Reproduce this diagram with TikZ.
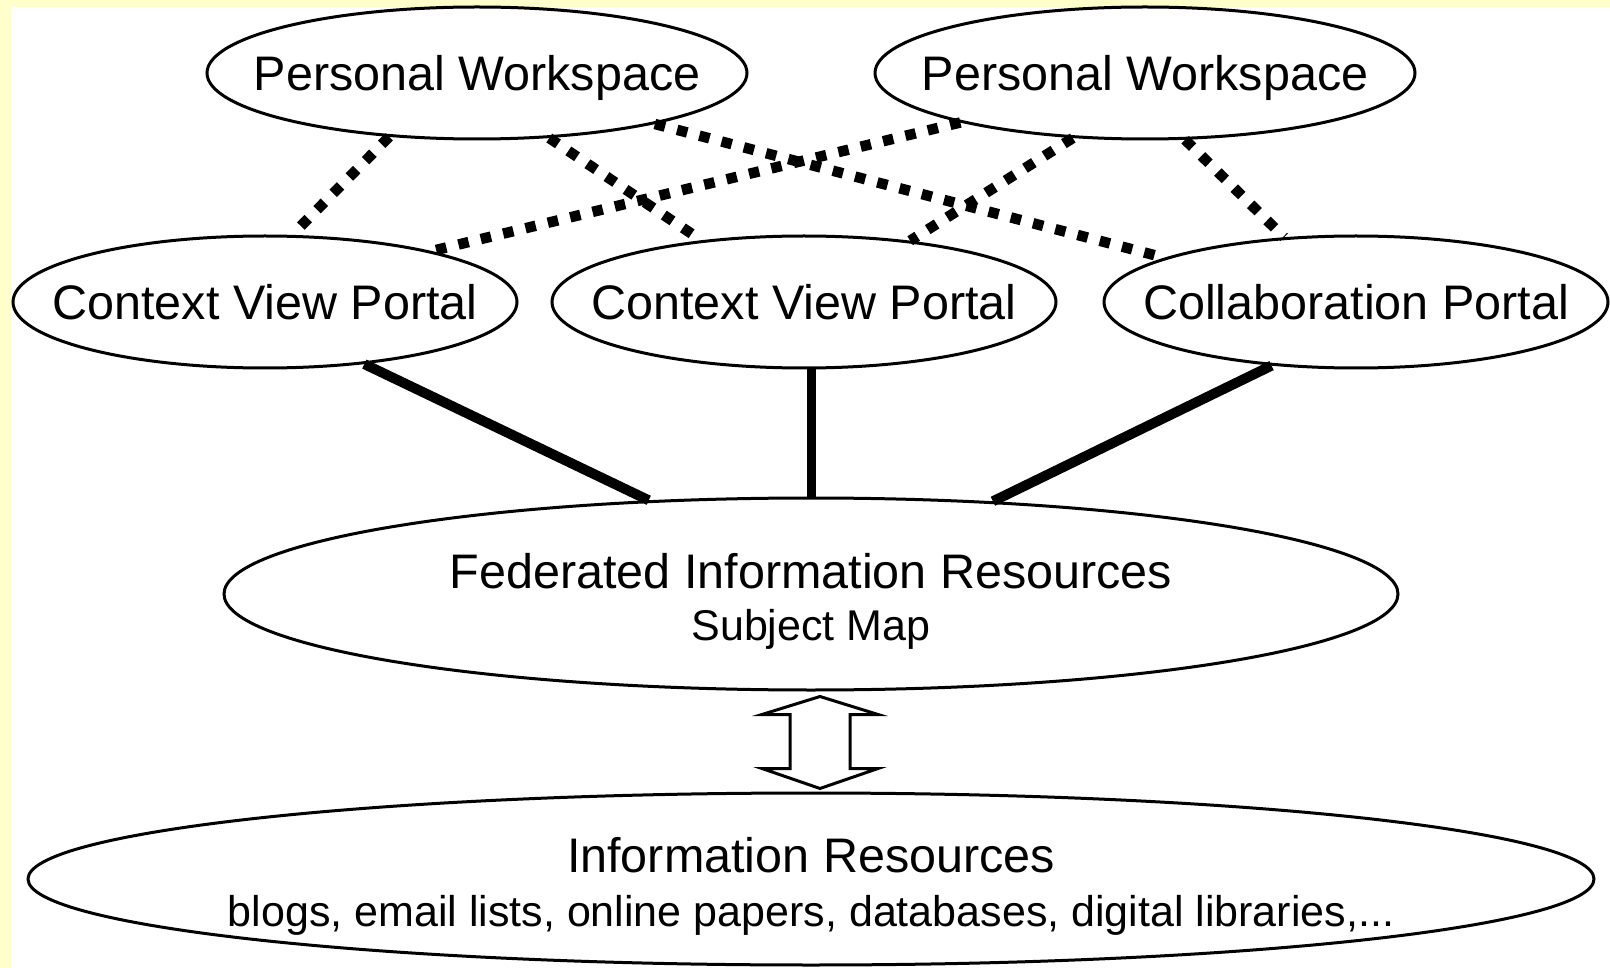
\documentclass[tikz,border=0pt]{standalone}
\usepackage{fontspec}
\setmainfont{Liberation Sans}
\usetikzlibrary{shapes.geometric,calc}
\definecolor{bgyellow}{RGB}{255,255,204}
\begin{document}
\begin{tikzpicture}[x=1pt,y=-1pt,
  ell/.style={ellipse,draw,line width=3pt,fill=white,inner sep=0pt},
  pwbox/.style={ell,minimum width=540pt,minimum height=132pt},
  portalbox/.style={ell,minimum width=504pt,minimum height=132pt},
  dotline/.style={line width=10.5pt,dash pattern=on 10.5pt off 12.5pt},
  solidline/.style={line width=10pt},
  bigtext/.style={font=\fontsize{48.5}{58}\selectfont,inner sep=0pt},
  smalltext/.style={font=\fontsize{43}{52}\selectfont,inner sep=0pt}]
\fill[bgyellow] (0,0) rectangle (1610,968);
\fill[white] (11,7) rectangle (1610,968);
\useasboundingbox (0,0) rectangle (1610,968);

% ellipses
\node[pwbox] (pw1) at (477,73) {};
\node[pwbox] (pw2) at (1145,73) {};
\node[portalbox] (cvp1) at (265,302) {};
\node[portalbox] (cvp2) at (804,302) {};
\node[portalbox] (cp) at (1356,302) {};
\node[ell,minimum width=1174pt,minimum height=192pt] (fir) at (811,594) {};
\node[ell,minimum width=1566pt,minimum height=172pt] (ir) at (811,879) {};

% texts
\node[bigtext] (pw1t) at ($(pw1.center)+(0,5)$) {Personal Workspace};
\node[bigtext] (pw2t) at ($(pw2.center)+(0,5)$) {Personal Workspace};
\node[bigtext] (cvp1t) at (cvp1.center) {Context View Portal};
\node[bigtext] (cvp2t) at (cvp2.center) {Context View Portal};
\node[bigtext] (cpt) at (cp.center) {Collaboration Portal};
\node[bigtext] (firt1) at ($(fir.center)+(0,-23)$) {Federated Information Resources};
\node[smalltext] (firt2) at ($(fir.center)+(0,35)$) {Subject Map};
\node[bigtext] (irt1) at ($(ir.center)+(0,-24)$) {Information Resources};
\node[smalltext] (irt2) at ($(ir.center)+(0,36)$) {blogs, email lists, online papers, databases, digital libraries,...};

% dotted connectors
\draw[dotline] (pw1.-144) -- (cvp1.68);
\draw[dotline] (pw1.-42) -- (cvp2.149);
\draw[dotline] (pw1.-16) -- (cp.167);
\draw[dotline] (pw2.-165) -- (cvp1.17);
\draw[dotline] (pw2.-138) -- (cvp2.30);
\draw[dotline] (pw2.-59) -- (cp.138);

% solid connectors
\draw[solidline] (cvp1.-32) -- (fir.150);
\draw[solidline,line width=9pt] (fir.north |- cvp2.south) -- (fir.north);
\draw[solidline] (cp.-143) -- (fir.27);

% double arrow
\coordinate (tipup) at ($(fir.south)+(9,5)$);
\coordinate (tipdn) at ($(ir.north)+(9,-3)$);
\draw[line width=3pt,fill=white,line join=miter]
  (tipup) -- ($(tipup)+(58,18)$) -- ($(tipup)+(30,18)$)
  -- ($(tipdn)+(30,-20)$) -- ($(tipdn)+(58,-20)$) -- (tipdn)
  -- ($(tipdn)+(-58,-20)$) -- ($(tipdn)+(-30,-20)$)
  -- ($(tipup)+(-30,18)$) -- ($(tipup)+(-58,18)$) -- cycle;
\end{tikzpicture}
\end{document}
